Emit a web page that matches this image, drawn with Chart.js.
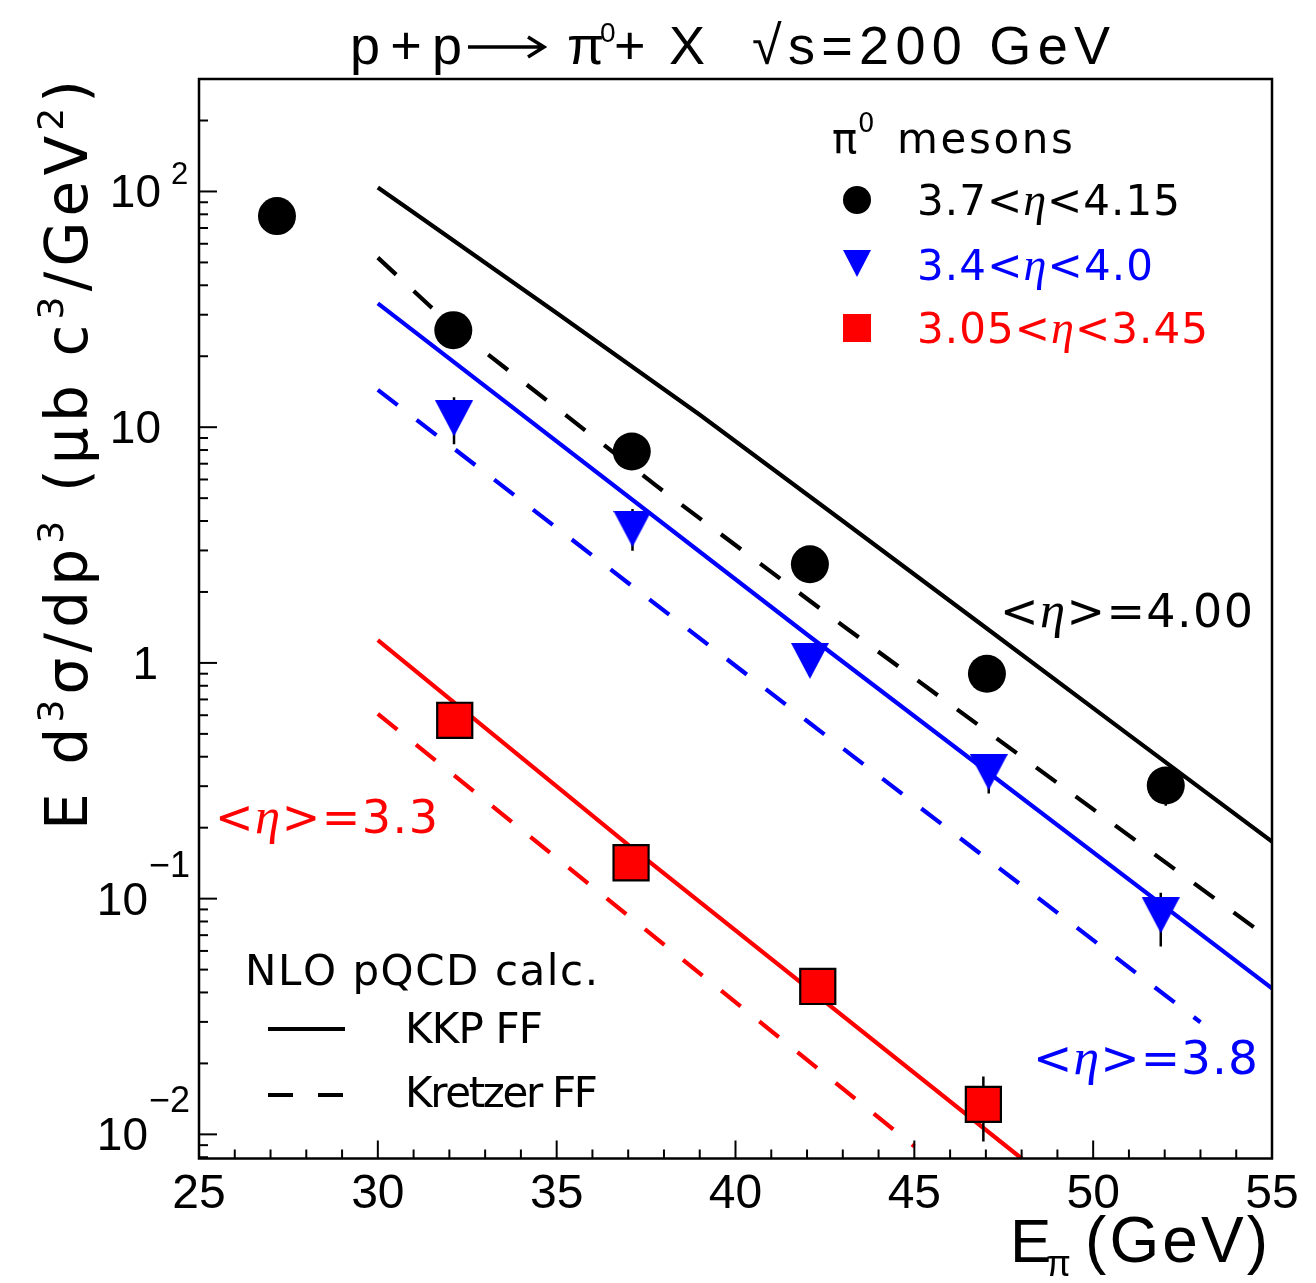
<!DOCTYPE html>
<html>
<head>
<meta charset="utf-8">
<script src="https://cdn.jsdelivr.net/npm/chart.js@4.4.1/dist/chart.umd.min.js"></script>
<style>
  html, body { margin: 0; padding: 0; background: #fff; }
</style>
</head>
<body>
<canvas id="c" width="1316" height="1283"></canvas>
<script>
// axis ranges and ticks
const xMin = 25, xMax = 55;
const yMin = 0.0079, yMax = 300;
const xTickLabels = [25, 30, 35, 40, 45, 50, 55];
const yTickVals = [100, 10, 1, 0.1, 0.01];
const yTickBase = ['10', '10', '1', '10', '10'];
const yTickExp = ['2', '', '', '\u22121', '\u22122'];

// pi0 data, 3.7 < eta < 4.15 (black circles)
const circE = [27.18, 32.11, 37.10, 42.08, 47.03, 52.03];
const circY = [78.6, 25.8, 7.89, 2.62, 0.90, 0.302];
const circLo = [74, 24.5, 7.45, 2.45, 0.83, 0.248];
const circHi = [83, 27.1, 8.35, 2.8, 0.97, 0.36];

// 3.4 < eta < 4.0 (blue triangles)
const triE = [32.13, 37.12, 42.08, 47.08, 51.89];
const triY = [10.9, 3.70, 1.02, 0.344, 0.085];
const triLo = [8.47, 2.99, 0.88, 0.279, 0.0627];
const triHi = [13.4, 4.5, 1.18, 0.404, 0.106];

// 3.05 < eta < 3.45 (red squares)
const sqE = [32.15, 37.08, 42.3, 46.93];
const sqY = [0.571, 0.142, 0.0424, 0.0134];
const sqLo = [0.54, 0.133, 0.039, 0.00933];
const sqHi = [0.60, 0.152, 0.046, 0.0176];

// NLO pQCD curves (KKP solid, Kretzer dashed)
const kkp40E = [30, 31, 35, 39, 43, 47, 51, 55];
const kkp40Y = [104, 81.5, 30.5, 11.3, 4.0, 1.41, 0.495, 0.1745];
const kre40E = [30, 31.5, 33, 37.8, 43, 48, 55];
const kre40Y = [52.4, 32.2, 20.8, 5.62, 1.44, 0.40, 0.0664];
const kkp38E = [30, 42, 55];
const kkp38Y = [33.5, 1.32, 0.0416];
const kre38E = [30, 42, 53];
const kre38Y = [14.4, 0.567, 0.0299];
const kkp33E = [30, 37, 48];
const kkp33Y = [1.25, 0.169, 0.0079];
const kre33E = [30, 37, 45];
const kre33Y = [0.608, 0.0847, 0.0089];

const BLUE = '#0000ff', RED = '#ff0000', BLACK = '#000000';
const SANS = '"DejaVu Sans", "Noto Sans", sans-serif';
const HELV = '"Liberation Sans", Arial, sans-serif';
const sans = px => px + 'px ' + SANS;
const helv = px => px + 'px ' + HELV;
const serifIt = px => 'italic ' + px + 'px "Liberation Serif", serif';

const pts = (xs, ys) => xs.map((x, i) => ({ x, y: ys[i] }));

function triCanvas(w, h, color) {
    const c = document.createElement('canvas');
    c.width = w; c.height = h;
    const g = c.getContext('2d');
    g.fillStyle = color;
    g.beginPath();
    g.moveTo(0, 0); g.lineTo(w, 0); g.lineTo(w / 2, h);
    g.closePath();
    g.fill();
    return c;
}

// draw text made of parts, optionally stretched to a given width
function drawRich(ctx, parts, x, y, color, width) {
    let n = 0, natural = 0;
    parts.forEach(p => {
        ctx.font = p.font;
        for (const ch of p.t) { natural += ctx.measureText(ch).width; n++; }
    });
    const gap = width ? (width - natural) / Math.max(n - 1, 1) : 0;
    ctx.fillStyle = color;
    ctx.textAlign = 'left';
    ctx.textBaseline = 'alphabetic';
    let cx = x;
    parts.forEach(p => {
        ctx.font = p.font;
        for (const ch of p.t) {
            ctx.fillText(ch, cx, y + (p.dy || 0));
            cx += ctx.measureText(ch).width + gap;
        }
    });
}

const etaParts = (pre, post, px) => [
    { t: pre, font: sans(px) },
    { t: '\u03b7', font: serifIt(px * 1.1) },
    { t: post, font: sans(px) }
];

function drawErrorBars(chart) {
    const xs = chart.scales.x, ys = chart.scales.y, a = chart.chartArea;
    const ctx = chart.ctx;
    ctx.save();
    ctx.beginPath();
    ctx.rect(a.left, a.top, a.right - a.left, a.bottom - a.top);
    ctx.clip();
    ctx.strokeStyle = BLACK;
    ctx.lineWidth = 2.5;
    [[circE, circLo, circHi], [triE, triLo, triHi], [sqE, sqLo, sqHi]].forEach(([E, lo, hi]) => {
        E.forEach((e, i) => {
            const px = xs.getPixelForValue(e);
            ctx.beginPath();
            ctx.moveTo(px, ys.getPixelForValue(lo[i]));
            ctx.lineTo(px, ys.getPixelForValue(hi[i]));
            ctx.stroke();
        });
    });
    ctx.restore();
}

const decor = {
    id: 'decor',
    beforeDatasetDraw(chart, args) {
        if (args.index === 2) drawErrorBars(chart);
    },
    afterDraw(chart) {
        const ctx = chart.ctx, a = chart.chartArea;
        const xs = chart.scales.x, ys = chart.scales.y;
        ctx.save();

        // frame
        ctx.strokeStyle = BLACK;
        ctx.lineWidth = 2.5;
        ctx.strokeRect(a.left, a.top, a.right - a.left, a.bottom - a.top);

        // y ticks (log, inward)
        ctx.lineWidth = 2;
        for (let e = -3; e <= 2; e++) {
            for (let m = 1; m <= 9; m++) {
                const v = m * Math.pow(10, e);
                if (v < yMin || v > yMax) continue;
                const py = ys.getPixelForValue(v);
                const len = m === 1 ? 18 : 9;
                ctx.beginPath();
                ctx.moveTo(a.left, py);
                ctx.lineTo(a.left + len, py);
                ctx.stroke();
            }
        }
        // x ticks (inward)
        for (let v = xMin; v <= xMax; v++) {
            const px = xs.getPixelForValue(v);
            const len = v % 5 === 0 ? 18 : 9;
            ctx.beginPath();
            ctx.moveTo(px, a.bottom);
            ctx.lineTo(px, a.bottom - len);
            ctx.stroke();
        }

        // x tick labels
        ctx.fillStyle = BLACK;
        ctx.font = helv(48);
        ctx.textAlign = 'center';
        ctx.textBaseline = 'alphabetic';
        xTickLabels.forEach(v => {
            ctx.fillText(String(v), xs.getPixelForValue(v), a.bottom + 49);
        });

        // y tick labels
        yTickVals.forEach((v, i) => {
            const py = ys.getPixelForValue(v);
            const exp = yTickExp[i];
            const neg = exp.startsWith('\u2212');
            const right = neg ? 148 : (i === 2 ? 158 : 161);
            ctx.font = helv(46);
            ctx.textAlign = 'right';
            ctx.fillText(yTickBase[i], right, py + 16);
            if (exp) {
                ctx.textAlign = 'left';
                ctx.font = helv(neg ? 36 : 31);
                ctx.fillText(exp, neg ? 149 : 171, py + (neg ? -22 : -7));
            }
        });

        // title
        drawRich(ctx, [{ t: 'p+p', font: helv(54) }], 350, 64, BLACK, 112);
        ctx.lineWidth = 3.5;
        ctx.beginPath();
        ctx.moveTo(468, 47); ctx.lineTo(543, 47);
        ctx.moveTo(528, 37); ctx.lineTo(544, 47); ctx.lineTo(528, 57);
        ctx.stroke();
        drawRich(ctx, [{ t: '\u03c0', font: helv(54) }], 567, 64, BLACK);
        drawRich(ctx, [{ t: '0', font: helv(28) }], 600, 42, BLACK);
        drawRich(ctx, [{ t: '+X', font: helv(54) }], 614, 64, BLACK, 91);
        drawRich(ctx, [{ t: '\u221as=200 GeV', font: helv(54) }], 752, 64, BLACK, 358);

        // y axis title
        ctx.save();
        ctx.translate(87, 830);
        ctx.rotate(-Math.PI / 2);
        const F = sans(58), S = sans(36);
        drawRich(ctx, [
            { t: 'E d', font: F }, { t: '3', font: S, dy: -24 },
            { t: '\u03c3/dp', font: F }, { t: '3', font: S, dy: -24 },
            { t: ' (\u03bcb c', font: F }, { t: '3', font: S, dy: -24 },
            { t: '/GeV', font: F }, { t: '2', font: S, dy: -24 },
            { t: ')', font: F }
        ], 0, 0, BLACK, 750);
        ctx.restore();

        // x axis title
        drawRich(ctx, [{ t: 'E', font: helv(62) }], 1010, 1262, BLACK);
        drawRich(ctx, [{ t: '\u03c0', font: helv(36) }], 1046, 1276, BLACK);
        drawRich(ctx, [{ t: '(GeV)', font: helv(64) }], 1085, 1262, BLACK, 183);

        // data legend (top right)
        drawRich(ctx, [{ t: '\u03c0', font: sans(42) }], 832, 153, BLACK);
        drawRich(ctx, [{ t: '0', font: sans(26) }], 858, 132, BLACK);
        drawRich(ctx, [{ t: 'mesons', font: sans(42) }], 897, 153, BLACK, 176);

        ctx.fillStyle = BLACK;
        ctx.beginPath();
        ctx.arc(857, 200, 14, 0, Math.PI * 2);
        ctx.fill();
        ctx.drawImage(triCanvas(28, 27, BLUE), 843, 250);
        ctx.fillStyle = RED;
        ctx.fillRect(843, 314, 28, 28);

        drawRich(ctx, etaParts('3.7<', '<4.15', 42), 917, 215, BLACK, 263);
        drawRich(ctx, etaParts('3.4<', '<4.0', 42), 917, 280, BLUE, 236);
        drawRich(ctx, etaParts('3.05<', '<3.45', 42), 917, 343, RED, 291);

        // mean eta labels
        drawRich(ctx, etaParts('<', '>=4.00', 46), 1000, 627, BLACK, 253);
        drawRich(ctx, etaParts('<', '>=3.8', 47), 1033, 1074, BLUE, 225);
        drawRich(ctx, etaParts('<', '>=3.3', 46), 215, 833, RED, 223);

        // NLO legend (bottom left)
        drawRich(ctx, [{ t: 'NLO pQCD calc.', font: sans(42) }], 245, 985, BLACK, 353);
        drawRich(ctx, [{ t: 'KKP FF', font: sans(42) }], 405, 1043, BLACK, 138);
        drawRich(ctx, [{ t: 'Kretzer FF', font: sans(42) }], 405, 1107, BLACK, 193);
        ctx.strokeStyle = BLACK;
        ctx.lineWidth = 4;
        ctx.beginPath();
        ctx.moveTo(268, 1029); ctx.lineTo(345, 1029);
        ctx.stroke();
        ctx.setLineDash([25, 25]);
        ctx.beginPath();
        ctx.moveTo(268, 1095); ctx.lineTo(345, 1095);
        ctx.stroke();
        ctx.setLineDash([]);

        ctx.restore();
    }
};

const curve = (xs, ys, color, dashed) => ({
    data: pts(xs, ys),
    showLine: true,
    borderColor: color,
    borderWidth: 4.2,
    borderDash: dashed ? [25, 24] : [],
    pointRadius: 0,
    fill: false
});

new Chart(document.getElementById('c'), {
    type: 'scatter',
    data: {
        datasets: [
            {
                data: pts(circE, circY),
                pointStyle: 'circle',
                pointRadius: 19,
                backgroundColor: BLACK,
                borderWidth: 0
            },
            {
                data: pts(triE, triY),
                pointStyle: triCanvas(38, 36, BLUE),
                pointRadius: 19
            },
            {
                data: pts(sqE, sqY),
                pointStyle: 'rect',
                pointRadius: 24.8,
                backgroundColor: RED,
                borderColor: BLACK,
                borderWidth: 2.2
            },
            curve(kkp40E, kkp40Y, BLACK, false),
            curve(kre40E, kre40Y, BLACK, true),
            curve(kkp38E, kkp38Y, BLUE, false),
            curve(kre38E, kre38Y, BLUE, true),
            curve(kkp33E, kkp33Y, RED, false),
            curve(kre33E, kre33Y, RED, true)
        ]
    },
    options: {
        responsive: false,
        animation: false,
        events: [],
        layout: { padding: { left: 199, right: 44, top: 79, bottom: 124.5 } },
        plugins: { legend: { display: false }, tooltip: { enabled: false } },
        scales: {
            x: { type: 'linear', min: xMin, max: xMax, display: false },
            y: { type: 'logarithmic', min: yMin, max: yMax, display: false, bounds: 'data' }
        }
    },
    plugins: [decor]
});
</script>
</body>
</html>
